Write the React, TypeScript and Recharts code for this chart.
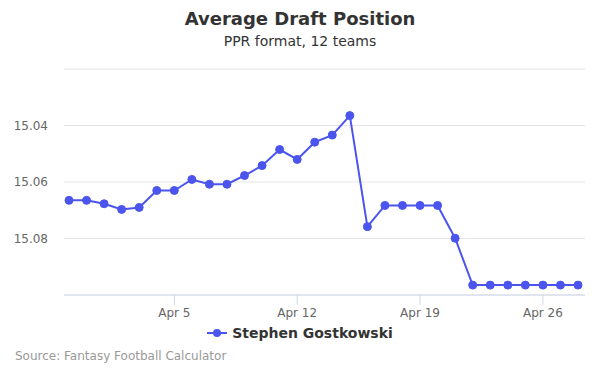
import { LineChart, Line, XAxis, YAxis, CartesianGrid } from 'recharts'

const dates = [
  'Mar 30', 'Mar 31', 'Apr 1', 'Apr 2', 'Apr 3', 'Apr 4', 'Apr 5', 'Apr 6', 'Apr 7', 'Apr 8',
  'Apr 9', 'Apr 10', 'Apr 11', 'Apr 12', 'Apr 13', 'Apr 14', 'Apr 15', 'Apr 16', 'Apr 17', 'Apr 18',
  'Apr 19', 'Apr 20', 'Apr 21', 'Apr 22', 'Apr 23', 'Apr 24', 'Apr 25', 'Apr 26', 'Apr 27', 'Apr 28',
]
const adp = [
  15.0665, 15.0665, 15.0677, 15.0697, 15.069, 15.063, 15.063, 15.0591, 15.0608, 15.0608,
  15.0577, 15.0542, 15.0485, 15.052, 15.0459, 15.0434, 15.0365, 15.0758, 15.0683, 15.0683,
  15.0683, 15.0683, 15.0799, 15.0965, 15.0965, 15.0965, 15.0965, 15.0965, 15.0965, 15.0965,
]
const xTicks = ['Apr 5', 'Apr 12', 'Apr 19', 'Apr 26']
const yTicks = [15.02, 15.04, 15.06, 15.08, 15.1]
const yLabels = [15.04, 15.06, 15.08]

const data = dates.map((d, i) => ({ date: d, adp: adp[i] }))
const BLUE = '#4b55ee'
const FONT = '"DejaVu Sans", sans-serif'

export default function App() {
  return (
    <div style={{ position: 'absolute', left: 0, top: 0, width: 600, height: 375, background: '#fff', fontFamily: FONT }}>
      <div style={{ position: 'absolute', top: 8, width: 600, textAlign: 'center', fontSize: 18, fontWeight: 'bold', color: '#333' }}>
        Average Draft Position
      </div>
      <div style={{ position: 'absolute', top: 33, width: 600, textAlign: 'center', fontSize: 14, color: '#333' }}>
        PPR format, 12 teams
      </div>
      <LineChart width={600} height={375} data={data} margin={{ top: 69, right: 15, left: 0, bottom: 0 }}>
        <CartesianGrid vertical={false} stroke="#e6e6e6" />
        <XAxis
          dataKey="date"
          type="category"
          ticks={xTicks}
          interval={0}
          height={80}
          padding={{ left: 5, right: 7 }}
          stroke="#ccd6eb"
          tickSize={10}
          tickMargin={3}
          tick={{ fill: '#666', fontSize: 12, fontFamily: FONT }}
        />
        <YAxis
          domain={[15.02, 15.1]}
          reversed
          ticks={yTicks}
          interval={0}
          width={64}
          axisLine={false}
          tickLine={false}
          tickSize={14}
          tickMargin={2}
          tickFormatter={(v: number) => (yLabels.includes(v) ? v.toFixed(2) : '')}
          tick={{ fill: '#666', fontSize: 12, fontFamily: FONT }}
        />
        <Line
          type="linear"
          dataKey="adp"
          stroke={BLUE}
          strokeWidth={2}
          dot={{ r: 4, fill: BLUE, stroke: BLUE, strokeWidth: 1 }}
          activeDot={false}
          isAnimationActive={false}
        />
      </LineChart>
      <div style={{ position: 'absolute', top: 325, width: 600, display: 'flex', justifyContent: 'center', alignItems: 'center', fontSize: 14, fontWeight: 'bold', color: '#333' }}>
        <svg width={20} height={12} style={{ marginRight: 5 }}>
          <line x1={0} y1={6} x2={20} y2={6} stroke={BLUE} strokeWidth={2} />
          <circle cx={10} cy={6} r={4} fill={BLUE} />
        </svg>
        Stephen Gostkowski
      </div>
      <div style={{ position: 'absolute', top: 349, left: 15, fontSize: 12, color: '#999' }}>
        Source: Fantasy Football Calculator
      </div>
    </div>
  )
}
